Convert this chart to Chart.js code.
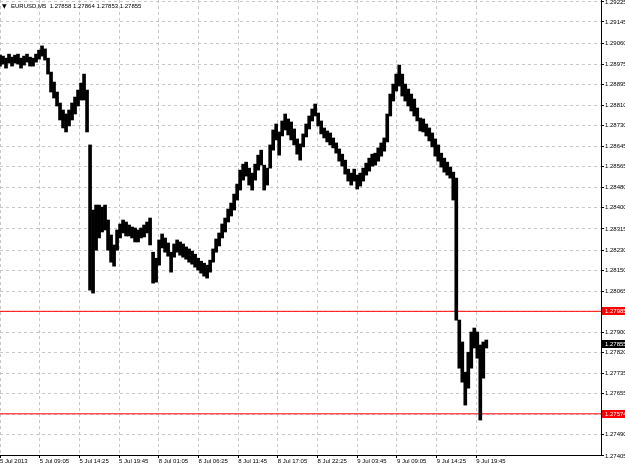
<!DOCTYPE html>
<html>
<head>
<meta charset="utf-8">
<script src="https://cdn.jsdelivr.net/npm/chart.js@4.4.0/dist/chart.umd.min.js"></script>
<style>
  html, body { margin: 0; padding: 0; background: #fff; }
</style>
</head>
<body>
<canvas id="chart" width="625" height="468"></canvas>
<script>
// EURUSD M5 bar chart, 5-9 Jul 2013 (compressed view, bars grouped in buckets)
let symbol = 'EURUSD,M5';
let lastQuote = ['1.27858', '1.27864', '1.27853', '1.27855'];

let timeLabels = ['5 Jul 2013', '5 Jul 09:05', '5 Jul 14:25', '5 Jul 19:45', '8 Jul 01:05',
  '8 Jul 06:25', '8 Jul 11:45', '8 Jul 17:05', '8 Jul 22:25', '9 Jul 03:45',
  '9 Jul 09:05', '9 Jul 14:25', '9 Jul 19:45'];

let priceTicks = [1.29225, 1.29145, 1.29060, 1.28975, 1.28895, 1.28810, 1.28730, 1.28645,
  1.28565, 1.28480, 1.28400, 1.28315, 1.28230, 1.28150, 1.28065, 1.27985, 1.27900,
  1.27820, 1.27735, 1.27655, 1.27570, 1.27490, 1.27405];

let highs = [
  1.29012, 1.29008, 1.29000, 1.29016, 1.29004, 1.29012, 1.29016, 1.29000, 1.29008, 1.29016,
  1.29004, 1.29000, 1.29016, 1.29032, 1.29049, 1.29037, 1.29000, 1.28944, 1.28904, 1.28864,
  1.28820, 1.28792, 1.28776, 1.28792, 1.28820, 1.28844, 1.28872, 1.28900, 1.28936, 1.28872,
  1.28652, 1.28391, 1.28411, 1.28411, 1.28403, 1.28411, 1.28351, 1.28291, 1.28251, 1.28311,
  1.28335, 1.28351, 1.28343, 1.28331, 1.28323, 1.28319, 1.28311, 1.28319, 1.28331, 1.28343,
  1.28359, 1.28222, 1.28198, 1.28271, 1.28295, 1.28279, 1.28259, 1.28222, 1.28255, 1.28271,
  1.28263, 1.28255, 1.28243, 1.28235, 1.28226, 1.28214, 1.28198, 1.28186, 1.28178, 1.28170,
  1.28190, 1.28235, 1.28275, 1.28299, 1.28335, 1.28359, 1.28395, 1.28419, 1.28455, 1.28495,
  1.28551, 1.28575, 1.28583, 1.28559, 1.28539, 1.28575, 1.28611, 1.28631, 1.28571, 1.28559,
  1.28652, 1.28712, 1.28736, 1.28704, 1.28748, 1.28776, 1.28756, 1.28744, 1.28716, 1.28676,
  1.28656, 1.28696, 1.28736, 1.28768, 1.28796, 1.28816, 1.28780, 1.28748, 1.28720, 1.28708,
  1.28700, 1.28680, 1.28660, 1.28636, 1.28615, 1.28591, 1.28555, 1.28539, 1.28555, 1.28531,
  1.28539, 1.28559, 1.28579, 1.28599, 1.28615, 1.28619, 1.28640, 1.28660, 1.28680, 1.28776,
  1.28856, 1.28896, 1.28936, 1.28972, 1.28936, 1.28896, 1.28876, 1.28856, 1.28836, 1.28800,
  1.28760, 1.28756, 1.28736, 1.28720, 1.28700, 1.28676, 1.28652, 1.28619, 1.28599, 1.28583,
  1.28563, 1.28543, 1.28519, 1.27950, 1.27862, 1.27741, 1.27821, 1.27902, 1.27918, 1.27902,
  1.27850, 1.27862, 1.27870
];

let lows = [
  1.28968, 1.28976, 1.28960, 1.28980, 1.28968, 1.28980, 1.28976, 1.28960, 1.28972, 1.28984,
  1.28968, 1.28968, 1.28984, 1.28996, 1.29008, 1.28992, 1.28936, 1.28864, 1.28840, 1.28808,
  1.28752, 1.28720, 1.28704, 1.28728, 1.28752, 1.28776, 1.28808, 1.28832, 1.28832, 1.28704,
  1.28070, 1.28058, 1.28230, 1.28279, 1.28303, 1.28311, 1.28230, 1.28182, 1.28166, 1.28230,
  1.28279, 1.28299, 1.28287, 1.28287, 1.28279, 1.28263, 1.28263, 1.28279, 1.28283, 1.28299,
  1.28251, 1.28098, 1.28102, 1.28170, 1.28239, 1.28222, 1.28206, 1.28142, 1.28202, 1.28222,
  1.28210, 1.28202, 1.28194, 1.28182, 1.28174, 1.28162, 1.28150, 1.28138, 1.28126, 1.28118,
  1.28142, 1.28182, 1.28222, 1.28247, 1.28279, 1.28303, 1.28343, 1.28367, 1.28391, 1.28431,
  1.28471, 1.28511, 1.28527, 1.28491, 1.28471, 1.28511, 1.28551, 1.28571, 1.28471, 1.28491,
  1.28559, 1.28631, 1.28672, 1.28611, 1.28688, 1.28712, 1.28692, 1.28672, 1.28652, 1.28615,
  1.28591, 1.28644, 1.28684, 1.28716, 1.28748, 1.28768, 1.28728, 1.28696, 1.28680, 1.28664,
  1.28652, 1.28640, 1.28619, 1.28587, 1.28567, 1.28535, 1.28507, 1.28491, 1.28507, 1.28475,
  1.28487, 1.28507, 1.28531, 1.28547, 1.28567, 1.28571, 1.28587, 1.28607, 1.28627, 1.28664,
  1.28768, 1.28828, 1.28868, 1.28888, 1.28848, 1.28828, 1.28808, 1.28788, 1.28768, 1.28748,
  1.28708, 1.28704, 1.28688, 1.28668, 1.28644, 1.28607, 1.28587, 1.28563, 1.28543, 1.28531,
  1.28519, 1.28431, 1.27950, 1.27757, 1.27701, 1.27609, 1.27677, 1.27757, 1.27838, 1.27797,
  1.27549, 1.27717, 1.27838
];

let levels = [1.27985, 1.27574];
let lastPrice = 1.27855;

const BARS_PER_TICK = 64;     // one time label every 64 five-minute bars
const BUCKET = 4.84;          // five-minute bars per drawn bucket
const VISIBLE_BARS = 969;

let barData = highs.map((h, i) => ({ x: i * BUCKET, y: [lows[i], h] }));
let tickBars = timeLabels.map((t, i) => i * BARS_PER_TICK);

const font = { family: '"Liberation Sans", Arial, sans-serif', size: 6 };

const overlay = {
  id: 'overlay',
  afterDraw(chart) {
    const { ctx, chartArea } = chart;
    const y = chart.scales.y;
    ctx.save();
    ctx.font = '6px "Liberation Sans", Arial, sans-serif';
    ctx.textBaseline = 'middle';
    const box = (value, bg) => {
      const py = Math.round(y.getPixelForValue(value));
      ctx.fillStyle = bg;
      ctx.fillRect(chartArea.right + 1, py - 4, 24, 8);
      ctx.fillStyle = '#fff';
      ctx.fillText(value.toFixed(5), chartArea.right + 4, py);
    };
    levels.forEach(v => box(v, '#ff0000'));
    box(lastPrice, '#000');

    ctx.fillStyle = '#000';
    ctx.font = '6px "DejaVu Sans", sans-serif';
    ctx.fillText('\u25BC', 2, 6);
    ctx.font = '6px "Liberation Sans", Arial, sans-serif';
    ctx.fillText(symbol + '  ' + lastQuote.join(' '), 11, 6);
    ctx.restore();
  }
};

new Chart(document.getElementById('chart'), {
  type: 'bar',
  data: {
    datasets: [
      {
        type: 'bar',
        data: barData,
        backgroundColor: '#000',
        borderWidth: 0,
        barThickness: 3,
        grouped: false,
        order: 1
      },
      ...levels.map(v => ({
        type: 'line',
        data: [{ x: 0, y: v }, { x: VISIBLE_BARS, y: v }],
        borderColor: '#ff0000',
        borderWidth: 1,
        pointRadius: 0,
        order: 2
      }))
    ]
  },
  options: {
    responsive: false,
    animation: false,
    devicePixelRatio: 1,
    layout: { padding: 0 },
    plugins: { legend: { display: false }, tooltip: { enabled: false } },
    scales: {
      x: {
        type: 'linear',
        min: 0,
        max: VISIBLE_BARS,
        offset: false,
        afterBuildTicks: s => { s.ticks = tickBars.map(v => ({ value: v })); },
        afterFit: s => { s.height = 13; s.paddingLeft = 0; s.paddingRight = 0; },
        grid: { color: '#c8c8c8', offset: false, tickLength: 3, tickColor: '#000' },
        border: { color: '#000', width: 1, dash: [3, 3] },
        ticks: {
          autoSkip: false, maxRotation: 0, align: 'start', padding: 0,
          color: '#000', font: font,
          callback: (v, i) => timeLabels[i]
        }
      },
      y: {
        position: 'right',
        min: 1.27409,
        max: 1.29233,
        afterBuildTicks: s => { s.ticks = priceTicks.map(v => ({ value: v })); },
        afterFit: s => { s.width = 24; s.paddingTop = 0; s.paddingBottom = 0; },
        grid: { color: '#c8c8c8', tickLength: 3, tickColor: '#000' },
        border: { color: '#000', width: 1, dash: [3, 3] },
        ticks: {
          autoSkip: false, padding: 1, color: '#000', font: font,
          callback: (v, i) => priceTicks[i].toFixed(5)
        }
      }
    }
  },
  plugins: [overlay]
});
</script>
</body>
</html>
